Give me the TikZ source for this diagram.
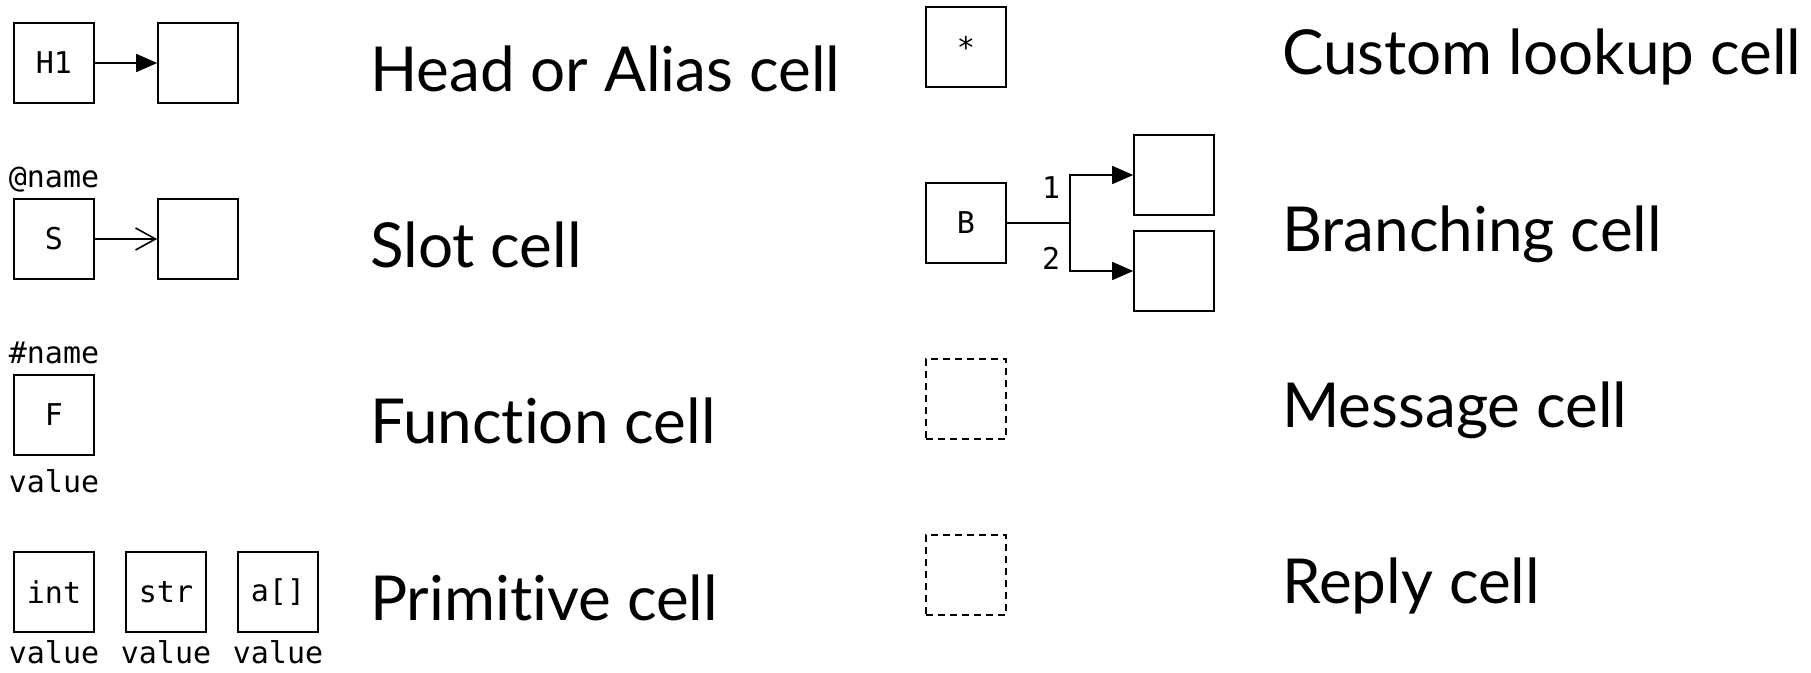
\documentclass[tikz,border=0pt]{standalone}
\usepackage{fontspec}
\setmainfont{Lato}[Ligatures=NoCommon]
\newfontfamily\cellfont{DejaVu Sans Mono}
\usetikzlibrary{arrows.meta,positioning}

\begin{document}
\begin{tikzpicture}
  [
    x=1pt, y=-1pt,
    cell/.style={
      draw, line width=1.6pt,
      minimum size=80pt, inner sep=0pt,
      font=\cellfont\fontsize{30}{30}\selectfont
    },
    msgcell/.style={
      cell, dash pattern=on 7pt off 5pt
    },
    tag/.style={
      anchor=base, inner sep=0pt,
      font=\cellfont\fontsize{30}{30}\selectfont
    },
    num/.style={
      inner xsep=9pt, inner ysep=1pt,
      font=\cellfont\fontsize{30}{30}\selectfont
    },
    desc/.style={
      anchor=base west, inner sep=0pt,
      font=\fontsize{62}{62}\selectfont
    },
    line/.style={
      line width=1.6pt
    },
    head/.style={
      line, -{Triangle[length=21pt,width=18pt]}
    },
    slot/.style={
      line, -{Straight Barb[length=20pt,width=22pt]}
    }
  ]
\useasboundingbox (0,0) rectangle (1811,672);

% Head or alias
\node (h1)  [cell] at (54,63)  {H1};
\node (h1t) [cell] at (198,63) {};
\draw [head] (h1) -- (h1t);
\node [desc] at (370,91) {Head or Alias cell};

% Slot
\node [tag] at (54,187) {@name};
\node (s)  [cell] at (54,239)  {S};
\node (st) [cell] at (198,239) {};
\draw [slot] (s) -- (st);
\node [desc] at (370,267) {Slot cell};

% Function
\node [tag] at (54,363) {\#name};
\node (f) [cell] at (54,415) {F};
\node [tag] at (54,492) {value};
\node [desc] at (370,443) {Function cell};

% Primitive
\node (pint) [cell] at (54,592)  {int};
\node (pstr) [cell] at (166,592) {str};
\node (parr) [cell] at (278,592) {a[]};
\node [tag] at (54,663)  {value};
\node [tag] at (166,663) {value};
\node [tag] at (278,663) {value};
\node [desc] at (370,620) {Primitive cell};

% Custom lookup
\node (look) [cell] at (966,47) {*};
\node [desc] at (1282,74) {Custom lookup cell};

% Branching
\node (br)  [cell] at (966,223)  {B};
\node (br1) [cell] at (1174,175) {};
\node (br2) [cell] at (1174,271) {};
\coordinate (brj) at (1070,223);
\draw [line] (br) -- (brj);
\draw [head] (brj) |- node [num, pos=0.5, anchor=north east] {1} (br1);
\draw [head] (brj) |- node [num, pos=0.5, anchor=south east] {2} (br2);
\node [desc] at (1282,251) {Branching cell};

% Message and reply
\node (msg) [msgcell] at (966,399) {};
\node [desc] at (1282,427) {Message cell};
\node (rep) [msgcell] at (966,575) {};
\node [desc] at (1282,603) {Reply cell};

\end{tikzpicture}
\end{document}
